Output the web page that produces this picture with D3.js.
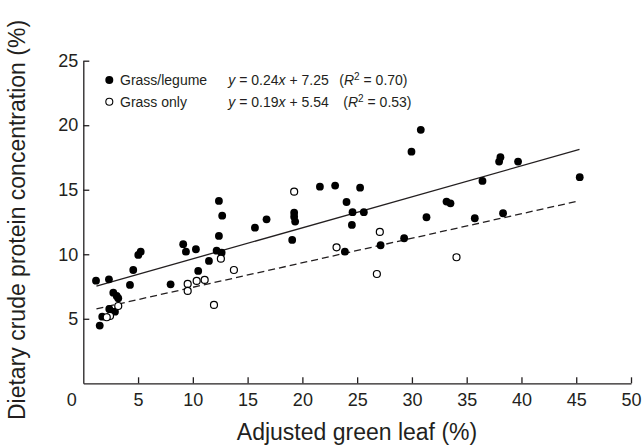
<!DOCTYPE html>
<html>
<head>
<meta charset="utf-8">
<script src="https://cdn.jsdelivr.net/npm/d3@7/dist/d3.min.js"></script>
<style>
  body { margin: 0; background: #fff; }
  text { font-family: "Liberation Sans", Arial, sans-serif; fill: #231f20; }
</style>
</head>
<body>
<script>
// grass/legume pastures (filled circles): [green leaf %, crude protein %]
var legume_x = [1.16, 2.34, 1.50, 1.73, 2.37, 2.74, 3.05, 3.19, 2.89, 4.26, 4.56, 5.02, 5.24, 7.97,
  9.12, 9.37, 10.28, 10.49, 11.47, 12.38, 12.17, 12.63, 12.38, 12.68, 15.67, 16.73, 19.25, 19.25,
  19.34, 19.07, 21.60, 22.99, 25.27, 24.03, 24.58, 25.61, 24.52, 23.88, 27.14, 30.81, 29.96, 38.08,
  37.96, 36.44, 33.16, 33.52, 31.33, 35.74, 38.32, 29.29, 39.69, 45.32]
var legume_y = [7.95, 8.06, 4.47, 5.16, 5.76, 7.02, 6.77, 6.59, 5.55, 7.62, 8.78, 9.95, 10.20, 7.67,
  10.78, 10.20, 10.39, 8.71, 9.48, 11.42, 10.28, 10.12, 14.13, 12.99, 12.06, 12.71, 13.22, 12.91,
  12.53, 11.11, 15.24, 15.32, 15.16, 14.05, 13.26, 13.26, 12.27, 10.20, 10.70, 19.64, 17.95, 17.52,
  17.18, 15.68, 14.08, 13.95, 12.87, 12.79, 13.18, 11.24, 17.18, 15.97]

// grass only pastures (open circles)
var grass_x = [9.53, 9.53, 10.35, 11.08, 11.93, 12.56, 13.75, 3.19, 2.44, 2.14, 19.25, 23.12, 27.07, 26.80, 34.07]
var grass_y = [7.70, 7.16, 7.93, 8.01, 6.07, 9.66, 8.78, 5.99, 5.22, 5.12, 14.85, 10.54, 11.73, 8.47, 9.77]

// fitted lines: slope, intercept, x range
var fit_legume = [0.24, 7.25]
var fit_grass = [0.19, 5.54]
var fit_range = [1.2, 45.3]

var x_ticks = [0, 5, 10, 15, 20, 25, 30, 35, 40, 45, 50]
var y_ticks = [5, 10, 15, 20, 25]

var width = 643, height = 445
// plot edges (window.top is reserved, hence the names)
var plot_left = 83.3, plot_right = 631, plot_top = 60.7, plot_bottom = 383.3

var svg = d3.select('body').append('svg').attr('width', width).attr('height', height)

var xScale = d3.scaleLinear().domain([0, 50]).range([plot_left, plot_right])
var yScale = d3.scaleLinear().domain([0, 25]).range([plot_bottom, plot_top])

// x axis, ticks pointing inwards
var xg = svg.append('g').attr('transform', 'translate(0,' + plot_bottom + ')')
  .call(d3.axisBottom(xScale).tickValues(x_ticks).tickSizeInner(-6).tickSizeOuter(0).tickPadding(9.5))
xg.selectAll('text').attr('font-size', '18px').attr('fill', '#231f20')
xg.selectAll('.tick').filter(function(d){ return d == 0 }).select('text').attr('dx', -12)
xg.selectAll('.tick').filter(function(d){ return d == 0 }).select('line').remove()

// y axis
var yg = svg.append('g').attr('transform', 'translate(' + plot_left + ',0)')
  .call(d3.axisLeft(yScale).tickValues(y_ticks).tickSizeInner(-6).tickSizeOuter(0).tickPadding(5))
yg.selectAll('text').attr('font-size', '18px').attr('fill', '#231f20')

xg.attr('font-family', null).attr('font-size', null)
yg.attr('font-family', null).attr('font-size', null)
svg.selectAll('.domain, .tick line').attr('stroke', '#231f20').attr('stroke-width', 1.3)

// fitted lines
var line = d3.line().x(function(d){ return xScale(d[0]) }).y(function(d){ return yScale(d[1]) })
function fitPts(f) { return fit_range.map(function(v){ return [v, f[0]*v + f[1]] }) }

svg.append('path').attr('d', line(fitPts(fit_legume)))
  .attr('fill', 'none').attr('stroke', '#231f20').attr('stroke-width', 1.3)
svg.append('path').attr('d', line(fitPts(fit_grass)))
  .attr('fill', 'none').attr('stroke', '#231f20').attr('stroke-width', 1.3).attr('stroke-dasharray', '7,4')

// points
var legume = legume_x.map(function(v, i){ return [v, legume_y[i]] })
var grass = grass_x.map(function(v, i){ return [v, grass_y[i]] })

svg.append('g').selectAll('circle').data(legume).enter().append('circle')
  .attr('cx', function(d){ return xScale(d[0]) })
  .attr('cy', function(d){ return yScale(d[1]) })
  .attr('r', 3.9).attr('fill', '#000')

svg.append('g').selectAll('circle').data(grass).enter().append('circle')
  .attr('cx', function(d){ return xScale(d[0]) })
  .attr('cy', function(d){ return yScale(d[1]) })
  .attr('r', 3.5).attr('fill', '#fff').attr('stroke', '#000').attr('stroke-width', 1.2)

// legend
var leg = svg.append('g')
leg.append('circle').attr('cx', 109.3).attr('cy', 80).attr('r', 4).attr('fill', '#000')
leg.append('circle').attr('cx', 109.3).attr('cy', 101.7).attr('r', 3.5).attr('fill', '#fff').attr('stroke', '#000').attr('stroke-width', 1.1)
leg.append('text').attr('x', 120).attr('y', 85).attr('font-size', '14px').text('Grass/legume')
leg.append('text').attr('x', 120).attr('y', 106.7).attr('font-size', '14px').text('Grass only')

function equation(ty, f, r2, rx) {
  var t = leg.append('text').attr('x', 228.3).attr('y', ty).attr('font-size', '14px')
  t.append('tspan').attr('font-style', 'italic').text('y')
  t.append('tspan').text(' = ' + f[0].toFixed(2))
  t.append('tspan').attr('font-style', 'italic').text('x')
  t.append('tspan').text(' + ' + f[1].toFixed(2))
  var r = leg.append('text').attr('x', rx).attr('y', ty).attr('font-size', '14px')
  r.append('tspan').text('(')
  r.append('tspan').attr('font-style', 'italic').text('R')
  r.append('tspan').attr('font-size', '10px').attr('dy', -5).text('2')
  r.append('tspan').attr('dy', 5).text(' = ' + r2 + ')')
}
equation(85, fit_legume, '0.70', 339.3)
equation(106.7, fit_grass, '0.53', 343.3)

// axis titles
svg.append('text').attr('x', 357).attr('y', 440).attr('text-anchor', 'middle')
  .attr('font-size', '23px').text('Adjusted green leaf (%)')
svg.append('text').attr('transform', 'translate(25,220) rotate(-90)').attr('text-anchor', 'middle')
  .attr('font-size', '23px').text('Dietary crude protein concentration (%)')
</script>
</body>
</html>
